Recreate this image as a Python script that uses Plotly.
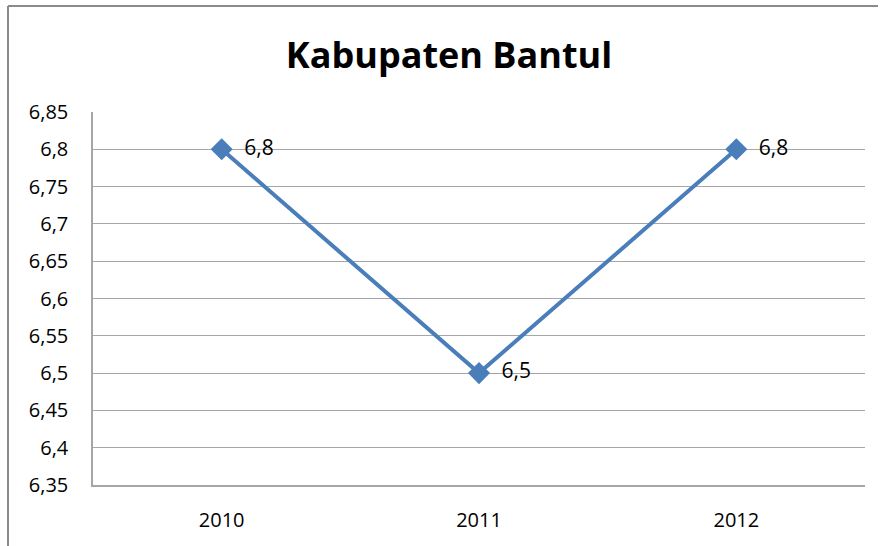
import plotly.graph_objects as go

years = ["2010", "2011", "2012"]
values = [6.8, 6.5, 6.8]
y_ticks = [6.35, 6.4, 6.45, 6.5, 6.55, 6.6, 6.65, 6.7, 6.75, 6.8, 6.85]
y_tick_labels = ["6,35", "6,4", "6,45", "6,5", "6,55", "6,6", "6,65", "6,7", "6,75", "6,8", "6,85"]
title_text = "Kabupaten Bantul"

FONT = "Open Sans"
blue = "#4a7ebb"
grid = "#a6a6a6"

labels = [str(v).replace(".", ",") for v in values]

fig = go.Figure()
fig.add_trace(go.Scatter(
    x=years, y=values, mode="lines+markers+text",
    line=dict(color=blue, width=4),
    marker=dict(symbol="diamond", size=17, color=blue),
    text=["  " + t for t in labels], textposition="middle right",
    textfont=dict(family=FONT, size=21, color="#000000"),
    cliponaxis=False, showlegend=False, hoverinfo="skip",
))

W, H = 880, 546
L, R, T, B = 93, 15, 112, 61
pw, ph = W - L - R, H - T - B

def px_x(x):
    return (x - L) / pw

def px_y(y):
    return (H - B - y) / ph

border = dict(color="#8a8a8a", width=2)

fig.update_layout(
    width=W, height=H,
    margin=dict(l=L, r=R, t=T, b=B),
    paper_bgcolor="white", plot_bgcolor="white",
    font=dict(family=FONT, size=20, color="#000000"),
    title=dict(text="<b>" + title_text + "</b>", x=449 / W, xanchor="center",
               y=1 - 55 / H, yanchor="middle", yref="container",
               font=dict(family=FONT, size=36, color="#000000")),
    xaxis=dict(type="category", range=[-0.5, 2.5], showgrid=False,
               showline=True, linecolor=grid, linewidth=1.5,
               ticks="outside", ticklen=16, tickcolor="rgba(0,0,0,0)",
               tickfont=dict(family=FONT, size=20), zeroline=False, fixedrange=True),
    yaxis=dict(range=[6.35, 6.85], tickvals=y_ticks, ticktext=y_tick_labels,
               showgrid=True, gridcolor=grid, gridwidth=1.2,
               showline=True, linecolor=grid, linewidth=1.5,
               ticks="outside", ticklen=19, tickcolor="rgba(0,0,0,0)",
               tickfont=dict(family=FONT, size=20), zeroline=False, fixedrange=True),
    shapes=[
        dict(type="rect", xref="paper", yref="paper", layer="above",
             x0=px_x(865.6), x1=px_x(872), y0=px_y(9), y1=px_y(546),
             fillcolor="white", line=dict(width=0)),
        dict(type="line", xref="paper", yref="paper", layer="above",
             x0=px_x(8), x1=px_x(878), y0=px_y(6), y1=px_y(6), line=border),
        dict(type="line", xref="paper", yref="paper", layer="above",
             x0=px_x(8), x1=px_x(8), y0=px_y(6), y1=px_y(560), line=border),
    ],
)

fig.write_html(
    "out.html",
    config={"displayModeBar": False},
    post_script="document.body.style.margin='0';document.body.style.overflow='hidden';",
)
